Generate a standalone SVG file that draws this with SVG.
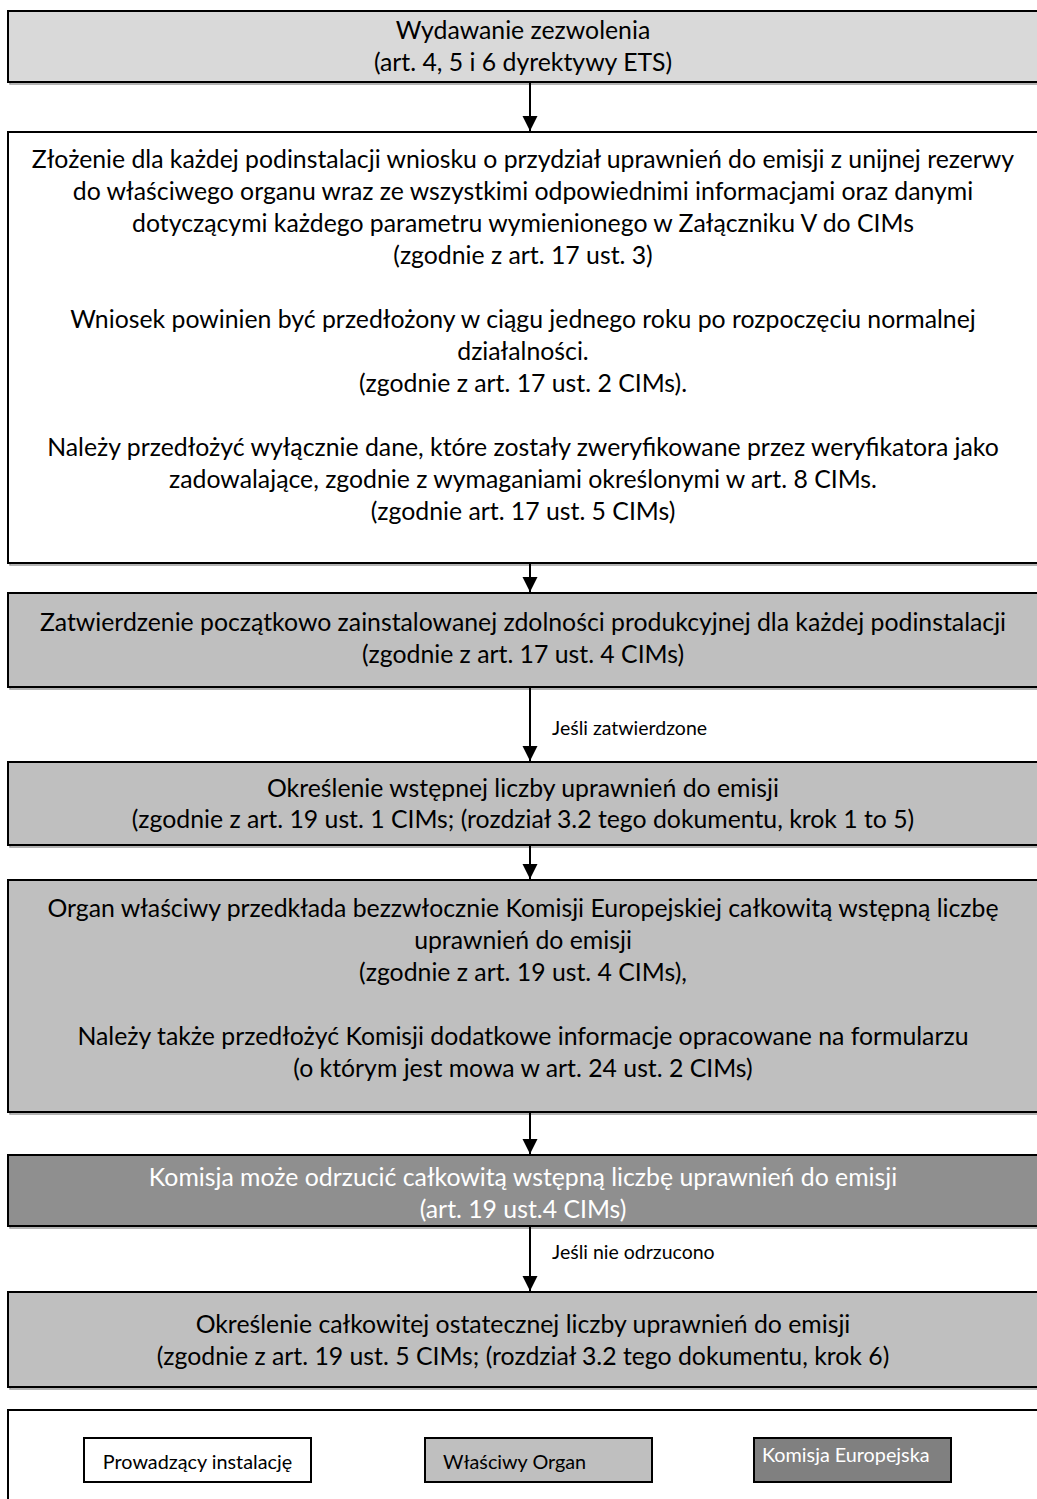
<svg xmlns="http://www.w3.org/2000/svg" width="1037" height="1499" viewBox="0 0 1037 1499">
  <style>
    .box { stroke: #000; stroke-width: 2; }
    .shadow { fill: none; stroke: #9a9a9a; stroke-width: 1.5; }
    .operator { fill: #ffffff; }
    .authority { fill: #bfbfbf; }
    .permit { fill: #d9d9d9; }
    .commission { fill: #8f8f8f; }
    text { font-family: Lato, "Open Sans", "Liberation Sans", sans-serif; fill: #000; }
    .t { font-size: 24.8px; text-anchor: middle; }
    .w { fill: #ffffff; }
    .lbl { font-size: 19.5px; }
    .leg { font-size: 19.8px; }
    .conn { stroke: #000; stroke-width: 2; fill: none; }
  </style>
  <defs>
    <marker id="arrow" markerWidth="15" markerHeight="16" refX="15" refY="7.5" orient="auto" markerUnits="userSpaceOnUse">
      <path d="M0,0 L15,7.5 L0,15 Z" fill="#000"/>
    </marker>
  </defs>

  <rect width="1037" height="1499" fill="#ffffff"/>

  <!-- Permit issuing -->
  <g id="node-permit">
    <rect class="shadow" x="10" y="13" width="1040" height="71"/>
    <rect class="box permit" x="8" y="11" width="1040" height="71"/>
    <text class="t" x="523" y="39">Wydawanie zezwolenia</text>
    <text class="t" x="523" y="71">(art. 4, 5 i 6 dyrektywy ETS)</text>
  </g>

  <!-- Application -->
  <g id="node-application">
    <rect class="shadow" x="10" y="134" width="1040" height="431"/>
    <rect class="box operator" x="8" y="132" width="1040" height="431"/>
    <text class="t" x="523" y="168">Złożenie dla każdej podinstalacji wniosku o przydział uprawnień do emisji z unijnej rezerwy</text>
    <text class="t" x="523" y="200">do właściwego organu wraz ze wszystkimi odpowiednimi informacjami oraz danymi</text>
    <text class="t" x="523" y="232">dotyczącymi każdego parametru wymienionego w Załączniku V do CIMs</text>
    <text class="t" x="523" y="264">(zgodnie z art. 17 ust. 3)</text>
    <text class="t" x="523" y="328">Wniosek powinien być przedłożony w ciągu jednego roku po rozpoczęciu normalnej</text>
    <text class="t" x="523" y="360">działalności.</text>
    <text class="t" x="523" y="392">(zgodnie z art. 17 ust. 2 CIMs).</text>
    <text class="t" x="523" y="456">Należy przedłożyć wyłącznie dane, które zostały zweryfikowane przez weryfikatora jako</text>
    <text class="t" x="523" y="488">zadowalające, zgodnie z wymaganiami określonymi w art. 8  CIMs.</text>
    <text class="t" x="523" y="520">(zgodnie art. 17 ust. 5 CIMs)</text>
  </g>

  <!-- Capacity approval -->
  <g id="node-capacity">
    <rect class="shadow" x="10" y="595" width="1040" height="94"/>
    <rect class="box authority" x="8" y="593" width="1040" height="94"/>
    <text class="t" x="523" y="631">Zatwierdzenie początkowo zainstalowanej zdolności produkcyjnej dla każdej podinstalacji</text>
    <text class="t" x="523" y="663">(zgodnie z art. 17 ust. 4 CIMs)</text>
  </g>

  <!-- Preliminary allocation -->
  <g id="node-preliminary">
    <rect class="shadow" x="10" y="764" width="1040" height="83"/>
    <rect class="box authority" x="8" y="762" width="1040" height="83"/>
    <text class="t" x="523" y="797">Określenie wstępnej liczby uprawnień do emisji</text>
    <text class="t" x="523" y="828">(zgodnie z art. 19 ust. 1 CIMs; (rozdział 3.2 tego dokumentu, krok 1 to 5)</text>
  </g>

  <!-- Submission to the Commission -->
  <g id="node-submission">
    <rect class="shadow" x="10" y="882" width="1040" height="232"/>
    <rect class="box authority" x="8" y="880" width="1040" height="232"/>
    <text class="t" x="523" y="917">Organ właściwy przedkłada bezzwłocznie Komisji Europejskiej całkowitą wstępną liczbę</text>
    <text class="t" x="523" y="949">uprawnień do emisji</text>
    <text class="t" x="523" y="981">(zgodnie z art. 19 ust. 4 CIMs),</text>
    <text class="t" x="523" y="1045">Należy także przedłożyć Komisji dodatkowe informacje opracowane na formularzu</text>
    <text class="t" x="523" y="1077">(o którym jest mowa w art. 24 ust. 2 CIMs)</text>
  </g>

  <!-- Commission decision -->
  <g id="node-commission">
    <rect class="shadow" x="10" y="1157" width="1040" height="71"/>
    <rect class="box commission" x="8" y="1155" width="1040" height="71"/>
    <text class="t w" x="523" y="1186">Komisja może odrzucić całkowitą wstępną liczbę uprawnień do emisji</text>
    <text class="t w" x="523" y="1218">(art. 19 ust.4 CIMs)</text>
  </g>

  <!-- Final allocation -->
  <g id="node-final">
    <rect class="shadow" x="10" y="1294" width="1040" height="95"/>
    <rect class="box authority" x="8" y="1292" width="1040" height="95"/>
    <text class="t" x="523" y="1333">Określenie całkowitej ostatecznej liczby uprawnień do emisji</text>
    <text class="t" x="523" y="1365">(zgodnie z art. 19 ust. 5 CIMs; (rozdział 3.2 tego dokumentu, krok 6)</text>
  </g>

  <!-- Connectors -->
  <g id="connectors">
    <line class="conn" x1="530" y1="82" x2="530" y2="131" marker-end="url(#arrow)"/>
    <line class="conn" x1="530" y1="563" x2="530" y2="592" marker-end="url(#arrow)"/>
    <line class="conn" x1="530" y1="687" x2="530" y2="761" marker-end="url(#arrow)"/>
    <line class="conn" x1="530" y1="845" x2="530" y2="879" marker-end="url(#arrow)"/>
    <line class="conn" x1="530" y1="1112" x2="530" y2="1154" marker-end="url(#arrow)"/>
    <line class="conn" x1="530" y1="1226" x2="530" y2="1291" marker-end="url(#arrow)"/>
    <text class="lbl" x="552" y="735">Jeśli zatwierdzone</text>
    <text class="lbl" x="552" y="1259">Jeśli nie odrzucono</text>
  </g>

  <!-- Legend -->
  <g id="legend">
    <rect class="shadow" x="10" y="1412" width="1040" height="100"/>
    <rect class="box operator" x="8" y="1410" width="1040" height="100"/>
    <g id="legend-operator">
      <rect class="box operator" x="84" y="1438" width="227" height="44"/>
      <text class="leg" x="197.5" y="1469" text-anchor="middle">Prowadzący instalację</text>
    </g>
    <g id="legend-authority">
      <rect class="box authority" x="425" y="1438" width="227" height="44"/>
      <text class="leg" x="443" y="1469">Właściwy Organ</text>
    </g>
    <g id="legend-commission">
      <rect class="box" fill="#808080" x="754" y="1438" width="197" height="44"/>
      <text class="leg w" x="762" y="1462">Komisja Europejska</text>
    </g>
  </g>
</svg>
